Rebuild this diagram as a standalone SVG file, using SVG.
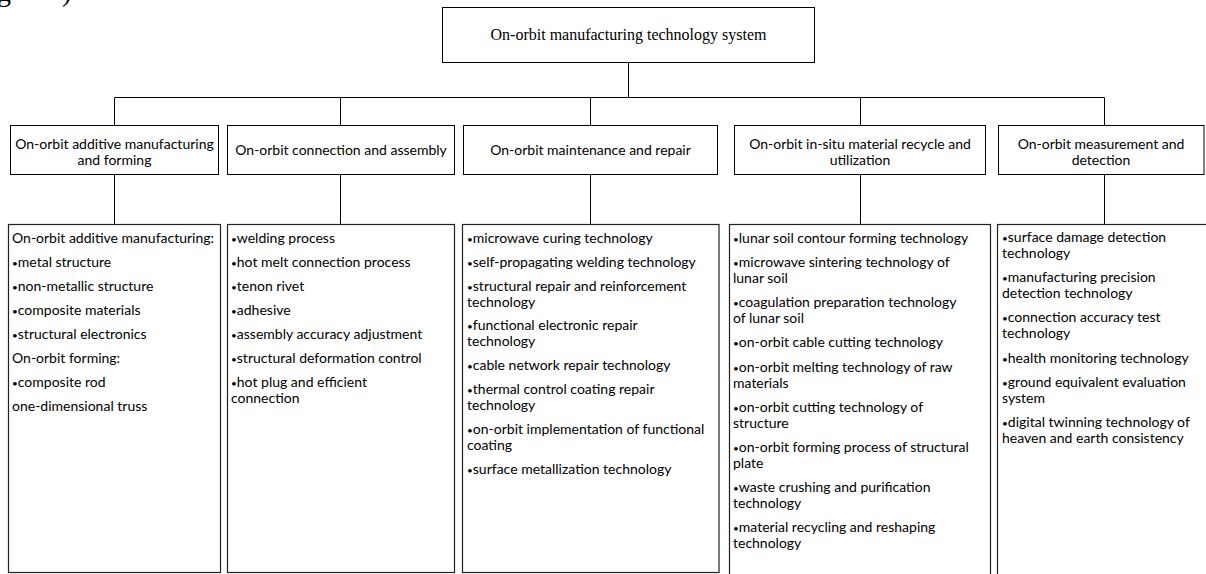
<svg xmlns="http://www.w3.org/2000/svg" width="1206" height="574" viewBox="0 0 1206 574">
<style>
.box{fill:#fff;stroke:#000;stroke-width:1}
.dbox{fill:#fff;stroke:#222;stroke-width:1.2}
.t{font-family:Lato,"Liberation Sans","DejaVu Sans",sans-serif;font-size:14px;fill:#000}
.b{font-size:10px}
.c{text-anchor:middle}
.serif{font-family:"Liberation Serif","Times New Roman",serif;font-size:16px;fill:#000}
.frag{font-family:"Liberation Serif","Times New Roman",serif;font-size:28px;fill:#000}
.line{fill:none;stroke:#000;stroke-width:1}
</style>
<rect width="1206" height="574" fill="#fff"/>
<text class="frag" x="-3" y="0.5">g</text>
<text class="frag" x="62" y="0.5">)</text>

<g id="connectors">
<path class="line" d="M628.5,62.5V97.5M114.5,97.5H1104.5M114.5,97.5V125.5M340.5,97.5V125.5M590.5,97.5V125.5M860.5,97.5V125.5M1104.5,97.5V125.5"/>
<path class="line" d="M114.5,174.5V224.5M340.5,174.5V224.5M590.5,174.5V224.5M860.5,174.5V224.5M1104.5,174.5V224.5"/>
</g>

<g id="root">
<rect class="box" x="442.5" y="7.5" width="372" height="55"/>
<text class="serif c" x="628.5" y="40">On-orbit manufacturing technology system</text>
</g>

<g id="h1">
<rect class="box" x="10.5" y="125.5" width="208" height="49"/>
<text class="t c" x="114.5" y="149">On-orbit additive manufacturing</text>
<text class="t c" x="114.5" y="164.5">and forming</text>
</g>
<g id="h2">
<rect class="box" x="227.5" y="125.5" width="227" height="49"/>
<text class="t c" x="341" y="155">On-orbit connection and assembly</text>
</g>
<g id="h3">
<rect class="box" x="463.5" y="125.5" width="254" height="49"/>
<text class="t c" x="590.5" y="155">On-orbit maintenance and repair</text>
</g>
<g id="h4">
<rect class="box" x="734.5" y="125.5" width="251" height="49"/>
<text class="t c" x="860" y="149">On-orbit in-situ material recycle and</text>
<text class="t c" x="860" y="164.5">utilization</text>
</g>
<g id="h5">
<rect class="box" x="998.5" y="125.5" width="205.5" height="49"/>
<text class="t c" x="1101" y="149">On-orbit measurement and</text>
<text class="t c" x="1101" y="164.5">detection</text>
</g>

<g id="d1">
<rect class="dbox" x="8.5" y="224.5" width="212" height="348"/>
<text class="t" x="12" y="243">On-orbit additive manufacturing:</text>
<text class="t" x="12" y="267"><tspan class="b">•</tspan>metal structure</text>
<text class="t" x="12" y="291"><tspan class="b">•</tspan>non-metallic structure</text>
<text class="t" x="12" y="315"><tspan class="b">•</tspan>composite materials</text>
<text class="t" x="12" y="339"><tspan class="b">•</tspan>structural electronics</text>
<text class="t" x="12" y="363">On-orbit forming:</text>
<text class="t" x="12" y="387"><tspan class="b">•</tspan>composite rod</text>
<text class="t" x="12" y="411">one-dimensional truss</text>
</g>

<g id="d2">
<rect class="dbox" x="227.5" y="224.5" width="227" height="348"/>
<text class="t" x="231" y="243"><tspan class="b">•</tspan>welding process</text>
<text class="t" x="231" y="267"><tspan class="b">•</tspan>hot melt connection process</text>
<text class="t" x="231" y="291"><tspan class="b">•</tspan>tenon rivet</text>
<text class="t" x="231" y="315"><tspan class="b">•</tspan>adhesive</text>
<text class="t" x="231" y="339"><tspan class="b">•</tspan>assembly accuracy adjustment</text>
<text class="t" x="231" y="363"><tspan class="b">•</tspan>structural deformation control</text>
<text class="t" x="231" y="387"><tspan class="b">•</tspan>hot plug and efficient</text>
<text class="t" x="231" y="403">connection</text>
</g>

<g id="d3">
<rect class="dbox" x="462.5" y="224.5" width="256.5" height="348"/>
<text class="t" x="467" y="243"><tspan class="b">•</tspan>microwave curing technology</text>
<text class="t" x="467" y="267"><tspan class="b">•</tspan>self-propagating welding technology</text>
<text class="t" x="467" y="290.5"><tspan class="b">•</tspan>structural repair and reinforcement</text>
<text class="t" x="467" y="306.5">technology</text>
<text class="t" x="467" y="330"><tspan class="b">•</tspan>functional electronic repair</text>
<text class="t" x="467" y="346">technology</text>
<text class="t" x="467" y="369.5"><tspan class="b">•</tspan>cable network repair technology</text>
<text class="t" x="467" y="393.5"><tspan class="b">•</tspan>thermal control coating repair</text>
<text class="t" x="467" y="409.5">technology</text>
<text class="t" x="467" y="434"><tspan class="b">•</tspan>on-orbit implementation of functional</text>
<text class="t" x="467" y="450">coating</text>
<text class="t" x="467" y="474"><tspan class="b">•</tspan>surface metallization technology</text>
</g>

<g id="d4">
<rect class="dbox" x="729.5" y="224.5" width="261" height="360"/>
<text class="t" x="733" y="243"><tspan class="b">•</tspan>lunar soil contour forming technology</text>
<text class="t" x="733" y="267"><tspan class="b">•</tspan>microwave sintering technology of</text>
<text class="t" x="733" y="283">lunar soil</text>
<text class="t" x="733" y="307"><tspan class="b">•</tspan>coagulation preparation technology</text>
<text class="t" x="733" y="323">of lunar soil</text>
<text class="t" x="733" y="347"><tspan class="b">•</tspan>on-orbit cable cutting technology</text>
<text class="t" x="733" y="371.5"><tspan class="b">•</tspan>on-orbit melting technology of raw</text>
<text class="t" x="733" y="387.5">materials</text>
<text class="t" x="733" y="411.5"><tspan class="b">•</tspan>on-orbit cutting technology of</text>
<text class="t" x="733" y="427.5">structure</text>
<text class="t" x="733" y="451.5"><tspan class="b">•</tspan>on-orbit forming process of structural</text>
<text class="t" x="733" y="467.5">plate</text>
<text class="t" x="733" y="492"><tspan class="b">•</tspan>waste crushing and purification</text>
<text class="t" x="733" y="508">technology</text>
<text class="t" x="733" y="532"><tspan class="b">•</tspan>material recycling and reshaping</text>
<text class="t" x="733" y="548">technology</text>
</g>

<g id="d5">
<rect class="dbox" x="997.5" y="224.5" width="220" height="360"/>
<text class="t" x="1002" y="242"><tspan class="b">•</tspan>surface damage detection</text>
<text class="t" x="1002" y="258">technology</text>
<text class="t" x="1002" y="282"><tspan class="b">•</tspan>manufacturing precision</text>
<text class="t" x="1002" y="298">detection technology</text>
<text class="t" x="1002" y="322"><tspan class="b">•</tspan>connection accuracy test</text>
<text class="t" x="1002" y="338">technology</text>
<text class="t" x="1002" y="362.5"><tspan class="b">•</tspan>health monitoring technology</text>
<text class="t" x="1002" y="386.5"><tspan class="b">•</tspan>ground equivalent evaluation</text>
<text class="t" x="1002" y="402.5">system</text>
<text class="t" x="1002" y="426.5"><tspan class="b">•</tspan>digital twinning technology of</text>
<text class="t" x="1002" y="442.5">heaven and earth consistency</text>
</g>
</svg>
